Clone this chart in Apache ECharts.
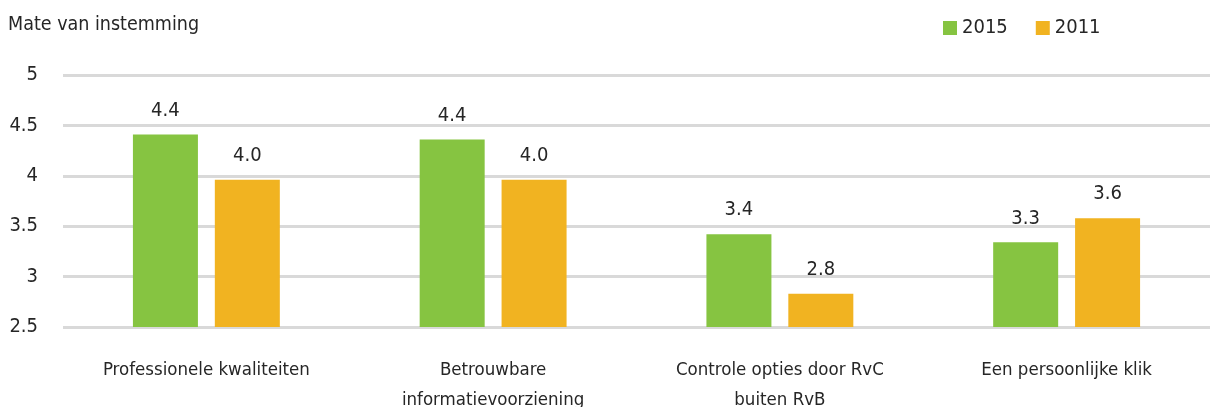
<!DOCTYPE html>
<html>
<head>
<meta charset="utf-8">
<script src="https://cdn.jsdelivr.net/npm/echarts@6/dist/echarts.min.js"></script>
<style>
  html, body { margin: 0; padding: 0; background: #fff; }
  #chart { width: 1215px; height: 407px; }
</style>
</head>
<body>
<div id="chart"></div>
<script>
// Categories (two-line labels where the text wraps)
const categories = [
  'Professionele kwaliteiten',
  'Betrouwbare\ninformatievoorziening',
  'Controle opties door RvC\nbuiten RvB',
  'Een persoonlijke klik'
];
// Mean agreement scores per year
const values2015 = [4.41, 4.36, 3.42, 3.34];
const values2011 = [3.96, 3.96, 2.83, 3.58];
// Value axis ticks
const yMin = 2.5;
const yMax = 5;
const yStep = 0.5;

const FONT = "'DejaVu Sans Condensed', 'Roboto', sans-serif";
const TEXT = '#262626';

const chart = echarts.init(document.getElementById('chart'), null, { renderer: 'canvas' });

const barLabel = {
  show: true,
  position: 'top',
  distance: 14,
  color: TEXT,
  fontFamily: FONT,
  fontSize: 20,
  formatter: p => p.value.toFixed(1)
};

chart.setOption({
  backgroundColor: '#ffffff',
  animation: false,
  title: {
    text: 'Mate van instemming',
    left: 3,
    top: 10,
    textStyle: { color: TEXT, fontFamily: FONT, fontSize: 19.5, fontWeight: 'normal' }
  },
  legend: {
    left: 938,
    top: 13,
    itemWidth: 14,
    itemHeight: 14,
    itemGap: 28,
    icon: 'rect',
    textStyle: { color: TEXT, fontFamily: FONT, fontSize: 20 },
    data: ['2015', '2011']
  },
  grid: { left: 63, right: 5, top: 75, bottom: 80, containLabel: false, outerBoundsMode: 'none' },
  xAxis: {
    type: 'category',
    data: categories,
    axisLine: { show: false },
    axisTick: { show: false },
    axisLabel: {
      margin: 28,
      color: TEXT,
      fontFamily: FONT,
      fontSize: 18.5,
      lineHeight: 30,
      interval: 0
    }
  },
  yAxis: {
    type: 'value',
    min: yMin,
    max: yMax,
    interval: yStep,
    axisLine: { show: false },
    axisTick: { show: false },
    axisLabel: {
      margin: 25,
      color: TEXT,
      fontFamily: FONT,
      fontSize: 20
    },
    splitLine: { lineStyle: { color: '#d9d9d9', width: 3 } }
  },
  series: [
    {
      name: '2015',
      type: 'bar',
      data: values2015,
      barWidth: 65,
      barGap: '26%',
      itemStyle: { color: '#86c441' },
      label: barLabel
    },
    {
      name: '2011',
      type: 'bar',
      data: values2011,
      barWidth: 65,
      itemStyle: { color: '#f1b321' },
      label: barLabel
    }
  ]
});
</script>
</body>
</html>
